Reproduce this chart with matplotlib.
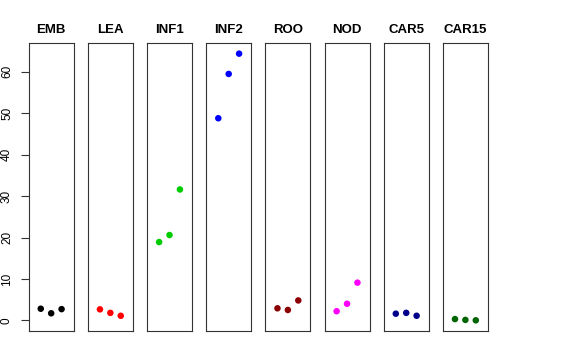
#!/usr/bin/env python3

import matplotlib
matplotlib.use("Agg")
import matplotlib.pyplot as plt
import numpy as np

plt.rcParams["font.family"] = ["Liberation Sans", "DejaVu Sans"]

tissues = ["EMB", "LEA", "INF1", "INF2", "ROO", "NOD", "CAR5", "CAR15"]
colors = ["black", "red", "#00CD00", "blue", "#8B0000", "magenta", "#00008B", "#006400"]

emb = [2.8, 1.7, 2.7]
lea = [2.65, 1.8, 1.1]
inf1 = [18.9, 20.6, 31.6]
inf2 = [48.8, 59.5, 64.4]
roo = [2.9, 2.5, 4.8]
nod = [2.2, 4.0, 9.1]
car5 = [1.6, 1.8, 1.1]
car15 = [0.3, 0.1, 0.0]

values = [emb, lea, inf1, inf2, roo, nod, car5, car15]
reps = [1, 2, 3]

# R-style 4% axis extension
allv = np.concatenate([np.array(v) for v in values])
lo, hi = allv.min(), allv.max()
ext = (hi - lo) * 0.04
ylim = (lo - ext, hi + ext)
xlim = (0 - 0.16, 4 + 0.16)

fig, axes = plt.subplots(1, 8, figsize=(5.76, 3.6), dpi=100, sharey=True)
fig.subplots_adjust(left=0.0498, right=0.847, bottom=0.0806, top=0.8806, wspace=0.316)

for i, ax in enumerate(axes):
    ax.scatter(reps, values[i], s=22, color=colors[i], edgecolors="none", zorder=3)
    ax.set_xlim(*xlim)
    ax.set_ylim(*ylim)
    ax.set_title(tissues[i], fontsize=9.5, fontweight="bold", pad=7)
    ax.set_xticks([])
    for sp in ax.spines.values():
        sp.set_linewidth(0.8)
        sp.set_color("#333333")
    if i == 0:
        ax.set_yticks([0, 10, 20, 30, 40, 50, 60])
        ax.tick_params(axis="y", length=5.8, width=0.8, pad=5.5, labelsize=8.5, color="#333333")
        for lab in ax.get_yticklabels():
            lab.set_rotation(90)
            lab.set_va("center")
    else:
        ax.tick_params(axis="y", left=False, labelleft=False)

fig.savefig("out.png", dpi=100)
